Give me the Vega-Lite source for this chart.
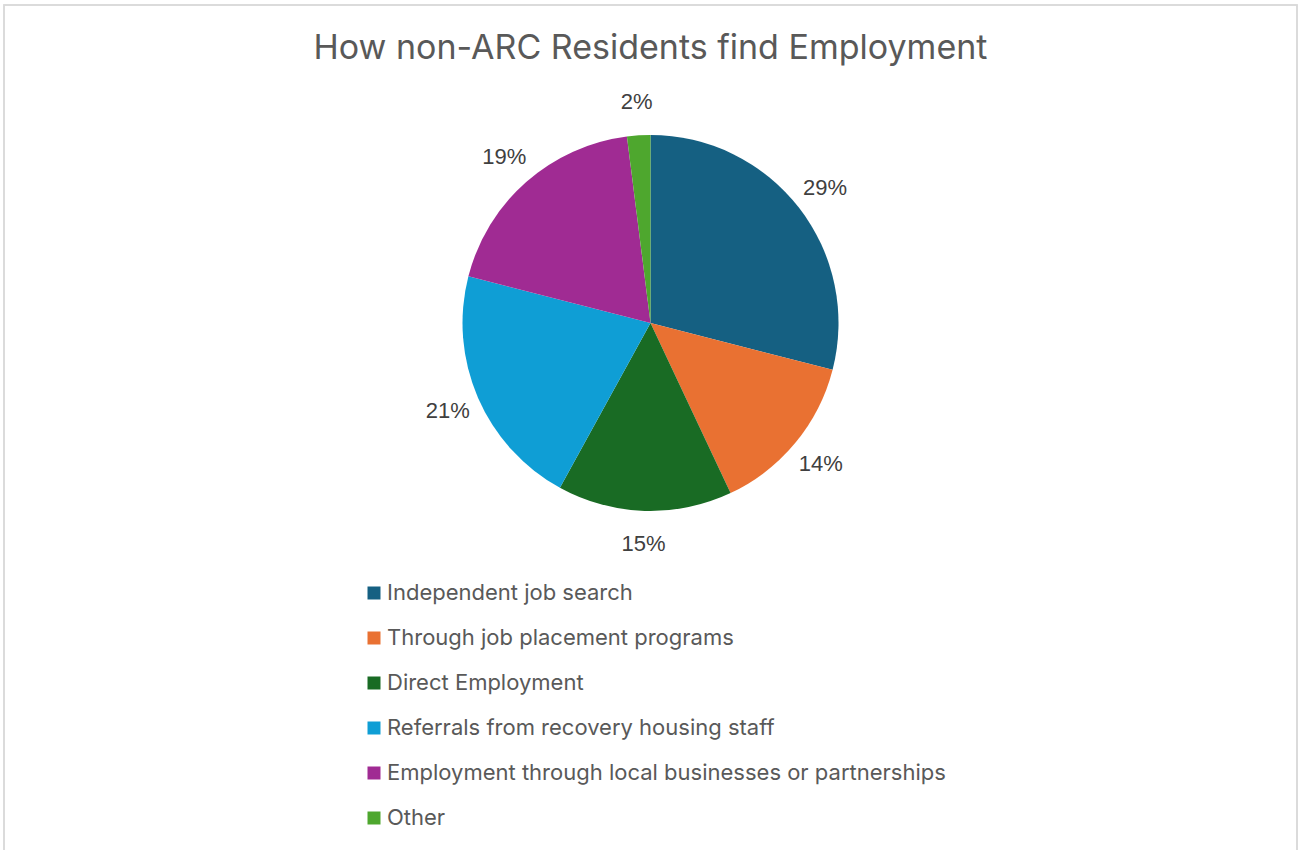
{
  "$schema": "https://vega.github.io/schema/vega-lite/v6.json",
  "autosize": {"type": "none"},
  "width": 1293,
  "height": 846,
  "padding": {"left": 4, "top": 5, "right": 6, "bottom": -1},
  "background": "white",
  "view": {"stroke": "#d9d9d9", "strokeWidth": 1.5},
  "config": {
    "view": {"stroke": "#d9d9d9", "strokeWidth": 1.5},
    "font": "Inter"
  },
  "title": {
    "text": "How non-ARC Residents find Employment",
    "anchor": "middle",
    "orient": "top",
    "offset": -42,
    "dy": 37,
    "baseline": "middle",
    "fontSize": 34,
    "fontWeight": "normal",
    "color": "#595959",
    "font": "Inter"
  },
  "layer": [
    {
      "data": {"values": [{}]},
      "mark": {"type": "rect", "fill": null, "stroke": "#d9d9d9", "strokeWidth": 1.5},
      "encoding": {}
    },
    {
      "data": {
        "values": [
          {"category": "Independent job search", "share": 0.29, "order": 1},
          {"category": "Through job placement programs", "share": 0.14, "order": 2},
          {"category": "Direct Employment", "share": 0.15, "order": 3},
          {"category": "Referrals from recovery housing staff", "share": 0.21, "order": 4},
          {"category": "Employment through local businesses or partnerships", "share": 0.19, "order": 5},
          {"category": "Other", "share": 0.02, "order": 6}
        ]
      },
      "encoding": {
        "theta": {"field": "share", "type": "quantitative", "stack": true},
        "order": {"field": "order", "type": "quantitative"}
      },
      "layer": [
        {
          "mark": {"type": "arc", "outerRadius": 188, "yOffset": -105},
          "encoding": {
            "color": {
              "field": "category",
              "type": "nominal",
              "sort": null,
              "scale": {
                "domain": ["Independent job search", "Through job placement programs", "Direct Employment", "Referrals from recovery housing staff", "Employment through local businesses or partnerships", "Other"],
                "range": ["#156082", "#E97132", "#196B24", "#0F9ED5", "#A02B93", "#4EA72E"]
              },
              "legend": {
                "title": null,
                "orient": "none",
                "legendX": 359,
                "legendY": 577,
                "direction": "vertical",
                "symbolType": "square",
                "symbolSize": 169,
                "symbolStrokeWidth": 0,
                "labelFontSize": 22,
                "labelColor": "#595959",
                "labelFont": "Inter",
                "labelOffset": 2,
                "labelLimit": 800,
                "rowPadding": 23
              }
            }
          }
        },
        {
          "mark": {"type": "text", "radius": 221, "yOffset": -105, "fontSize": 22, "font": "Liberation Sans", "fill": "#404040", "align": "center", "baseline": "middle"},
          "encoding": {
            "text": {"field": "share", "type": "quantitative", "format": ".0%"}
          }
        }
      ]
    }
  ]
}
